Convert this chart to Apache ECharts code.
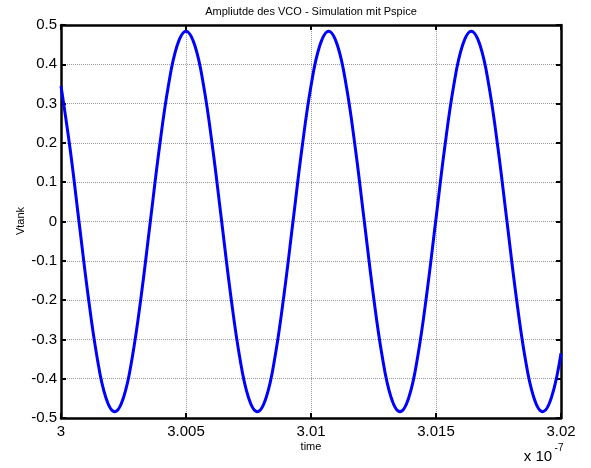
<!DOCTYPE html>
<html>
<head>
<meta charset="utf-8">
<script src="https://cdn.jsdelivr.net/npm/echarts@6/dist/echarts.min.js"></script>
<style>
  html, body { margin: 0; padding: 0; background: #fff; }
  #chart { width: 591px; height: 468px; }
</style>
</head>
<body>
<div id="chart"></div>
<script>
// time in units of 1e-7 s
var timeValues = [
  3.000000, 3.000364, 3.000720, 3.001077, 3.001434, 3.001790, 3.002147, 3.002504,
  3.002860, 3.003217, 3.003573, 3.003930, 3.004287, 3.004643, 3.005000, 3.005357,
  3.005713, 3.006070, 3.006427, 3.006783, 3.007140, 3.007496, 3.007853, 3.008210,
  3.008566, 3.008923, 3.009280, 3.009636, 3.009993, 3.010349, 3.010706, 3.011063,
  3.011419, 3.011776, 3.012133, 3.012489, 3.012846, 3.013202, 3.013559, 3.013916,
  3.014272, 3.014629, 3.014986, 3.015342, 3.015699, 3.016055, 3.016412, 3.016769,
  3.017125, 3.017482, 3.017839, 3.018195, 3.018552, 3.018909, 3.019265, 3.019622,
  3.020000
];
var vtankValues = [
  0.345, 0.185, 0, -0.185, -0.342, -0.447, -0.484, -0.447,
  -0.342, -0.185, 0, 0.185, 0.342, 0.447, 0.484, 0.447,
  0.342, 0.185, 0, -0.185, -0.342, -0.447, -0.484, -0.447,
  -0.342, -0.185, 0, 0.185, 0.342, 0.447, 0.484, 0.447,
  0.342, 0.185, 0, -0.185, -0.342, -0.447, -0.484, -0.447,
  -0.342, -0.185, 0, 0.185, 0.342, 0.447, 0.484, 0.447,
  0.342, 0.185, 0, -0.185, -0.342, -0.447, -0.484, -0.447,
  -0.335
];
var xTicks = { min: 3, max: 3.02, step: 0.005 };
var yTicks = { min: -0.5, max: 0.5, step: 0.1 };

var titleText = 'Ampliutde des VCO - Simulation mit Pspice';
var xName = 'time';
var yName = 'Vtank';

var font = '"Liberation Sans", Arial, Helvetica, sans-serif';

var points = [];
for (var i = 0; i < timeValues.length; i++) {
  points.push([timeValues[i], vtankValues[i]]);
}

function axis(ticks, pos, main) {
  return {
    type: 'value',
    position: pos,
    min: ticks.min,
    max: ticks.max,
    interval: ticks.step,
    axisLine: { show: true, onZero: false, lineStyle: { color: '#000', width: 2.5 } },
    axisTick: { show: true, inside: true, length: 5, lineStyle: { color: '#000', width: 2 } },
    axisLabel: {
      show: main,
      color: '#000',
      fontSize: 15,
      fontFamily: font,
      margin: pos === 'bottom' ? 6 : 4,
      formatter: function(v) { return parseFloat(v.toFixed(4)).toString(); }
    },
    splitLine: {
      show: main,
      lineStyle: { color: '#9a9a9a', width: 1, type: [1, 1] }
    }
  };
}

var chart = echarts.init(document.getElementById('chart'));
chart.setOption({
  animation: false,
  backgroundColor: '#fff',
  grid: { left: 61, right: 30, top: 25, bottom: 50 },
  xAxis: [axis(xTicks, 'bottom', true), axis(xTicks, 'top', false)],
  yAxis: [axis(yTicks, 'left', true), axis(yTicks, 'right', false)],
  series: [{
    type: 'line',
    data: points,
    xAxisIndex: 0,
    yAxisIndex: 0,
    showSymbol: false,
    smooth: 0.4,
    lineStyle: { color: '#0000ff', width: 3 }
  }],
  graphic: [
    { type: 'text', x: 311, y: 12, style: { text: titleText, font: '11px ' + font, fill: '#000', align: 'center', verticalAlign: 'middle' } },
    { type: 'text', x: 311, y: 447, style: { text: xName, font: '11px ' + font, fill: '#000', align: 'center', verticalAlign: 'middle' } },
    { type: 'text', x: 21, y: 221, rotation: Math.PI / 2, style: { text: yName, font: '11px ' + font, fill: '#000', align: 'center', verticalAlign: 'middle' } },
    { type: 'text', x: 538, y: 457, style: { text: 'x 10', font: '15px ' + font, fill: '#000', align: 'center', verticalAlign: 'middle' } },
    { type: 'text', x: 559, y: 448, style: { text: '-7', font: '10px ' + font, fill: '#000', align: 'center', verticalAlign: 'middle' } }
  ]
});
</script>
</body>
</html>
